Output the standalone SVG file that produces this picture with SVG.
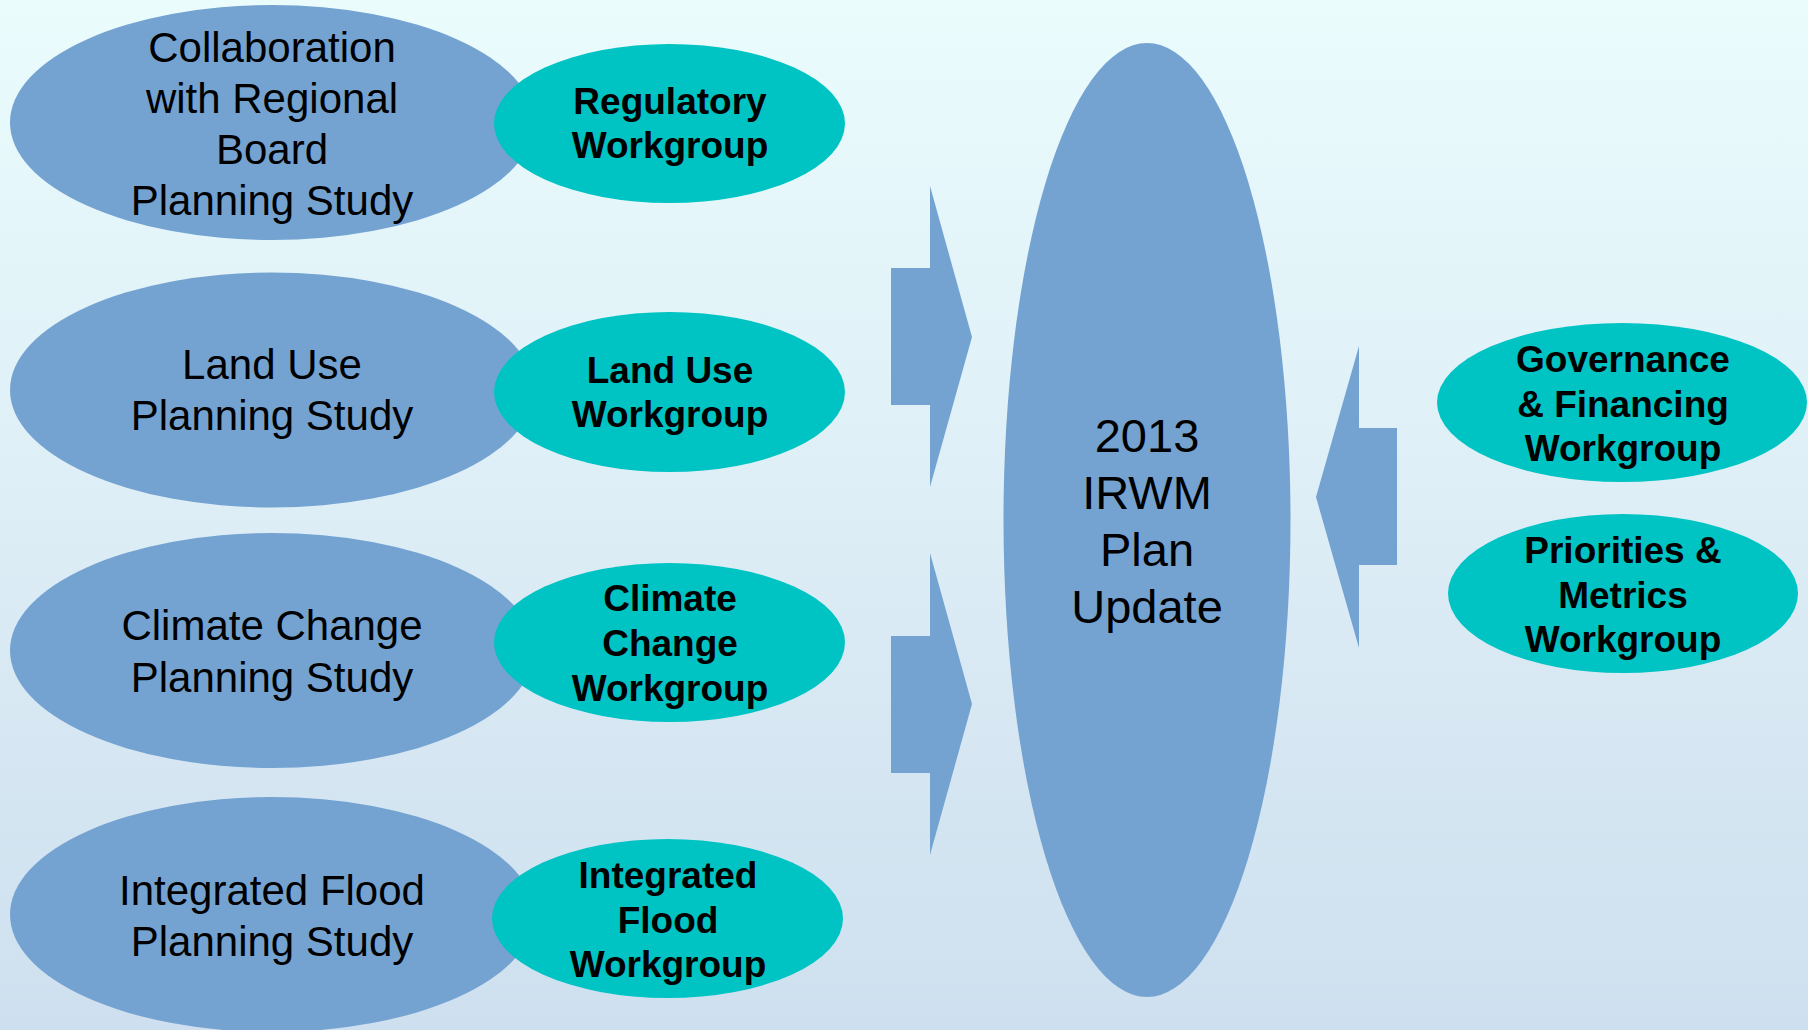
<svg xmlns="http://www.w3.org/2000/svg" width="1808" height="1030" viewBox="0 0 1808 1030">
<defs>
<linearGradient id="bg" x1="0" y1="0" x2="0" y2="1">
<stop offset="0" stop-color="#EBFCFD"/>
<stop offset="1" stop-color="#CEDFEF"/>
</linearGradient>
<style>
.study{fill:#74A3D1}
.wg{fill:#00C3C3}
.arrow{fill:#74A3D1}
.t1{font-family:"Liberation Sans",Arial,sans-serif;font-size:42px;fill:#000;text-anchor:middle}
.t2{font-family:"Liberation Sans",Arial,sans-serif;font-size:37px;font-weight:bold;fill:#000;text-anchor:middle}
.t3{font-family:"Liberation Sans",Arial,sans-serif;font-size:47px;fill:#000;text-anchor:middle}
</style>
</defs>
<rect width="1808" height="1030" fill="url(#bg)"/>

<g id="study-regional">
<ellipse class="study" cx="272" cy="122.5" rx="262" ry="117.5"/>
<text class="t1" x="272" y="62">Collaboration</text>
<text class="t1" x="272" y="113">with Regional</text>
<text class="t1" x="272" y="164">Board</text>
<text class="t1" x="272" y="215">Planning Study</text>
</g>
<g id="study-landuse">
<ellipse class="study" cx="272" cy="390" rx="262" ry="117.5"/>
<text class="t1" x="272" y="379">Land Use</text>
<text class="t1" x="272" y="430">Planning Study</text>
</g>
<g id="study-climate">
<ellipse class="study" cx="272" cy="650.5" rx="262" ry="117.5"/>
<text class="t1" x="272" y="640">Climate Change</text>
<text class="t1" x="272" y="692">Planning Study</text>
</g>
<g id="study-flood">
<ellipse class="study" cx="272" cy="914.5" rx="262" ry="117.5"/>
<text class="t1" x="272" y="905">Integrated Flood</text>
<text class="t1" x="272" y="956">Planning Study</text>
</g>

<g id="wg-regulatory">
<ellipse class="wg" cx="669.5" cy="123.5" rx="175.5" ry="79.5"/>
<text class="t2" x="670" y="114">Regulatory</text>
<text class="t2" x="670" y="158">Workgroup</text>
</g>
<g id="wg-landuse">
<ellipse class="wg" cx="669.5" cy="392" rx="175.5" ry="80"/>
<text class="t2" x="670" y="383">Land Use</text>
<text class="t2" x="670" y="427">Workgroup</text>
</g>
<g id="wg-climate">
<ellipse class="wg" cx="669.5" cy="642.5" rx="175.5" ry="79.5"/>
<text class="t2" x="670" y="611">Climate</text>
<text class="t2" x="670" y="656">Change</text>
<text class="t2" x="670" y="701">Workgroup</text>
</g>
<g id="wg-flood">
<ellipse class="wg" cx="667.5" cy="918.5" rx="175.5" ry="79.5"/>
<text class="t2" x="668" y="888">Integrated</text>
<text class="t2" x="668" y="933">Flood</text>
<text class="t2" x="668" y="977">Workgroup</text>
</g>

<g id="plan-update">
<ellipse class="study" cx="1147" cy="520" rx="143.5" ry="477"/>
<text class="t3" x="1147" y="452">2013</text>
<text class="t3" x="1147" y="509">IRWM</text>
<text class="t3" x="1147" y="566">Plan</text>
<text class="t3" x="1147" y="623">Update</text>
</g>

<g id="wg-governance">
<ellipse class="wg" cx="1622" cy="402.5" rx="185" ry="79.5"/>
<text class="t2" x="1623" y="372">Governance</text>
<text class="t2" x="1623" y="417">&amp; Financing</text>
<text class="t2" x="1623" y="461">Workgroup</text>
</g>
<g id="wg-priorities">
<ellipse class="wg" cx="1623" cy="593.5" rx="175" ry="79.5"/>
<text class="t2" x="1623" y="563">Priorities &amp;</text>
<text class="t2" x="1623" y="608">Metrics</text>
<text class="t2" x="1623" y="652">Workgroup</text>
</g>

<g id="connectors">
<polygon class="arrow" points="891,268 930,268 930,186 972,337 930,487 930,405 891,405"/>
<polygon class="arrow" points="891,636 930,636 930,553 972,704 930,855 930,773 891,773"/>
<polygon class="arrow" points="1397,428 1359,428 1359,346 1316,497 1359,648 1359,565 1397,565"/>
</g>
</svg>
